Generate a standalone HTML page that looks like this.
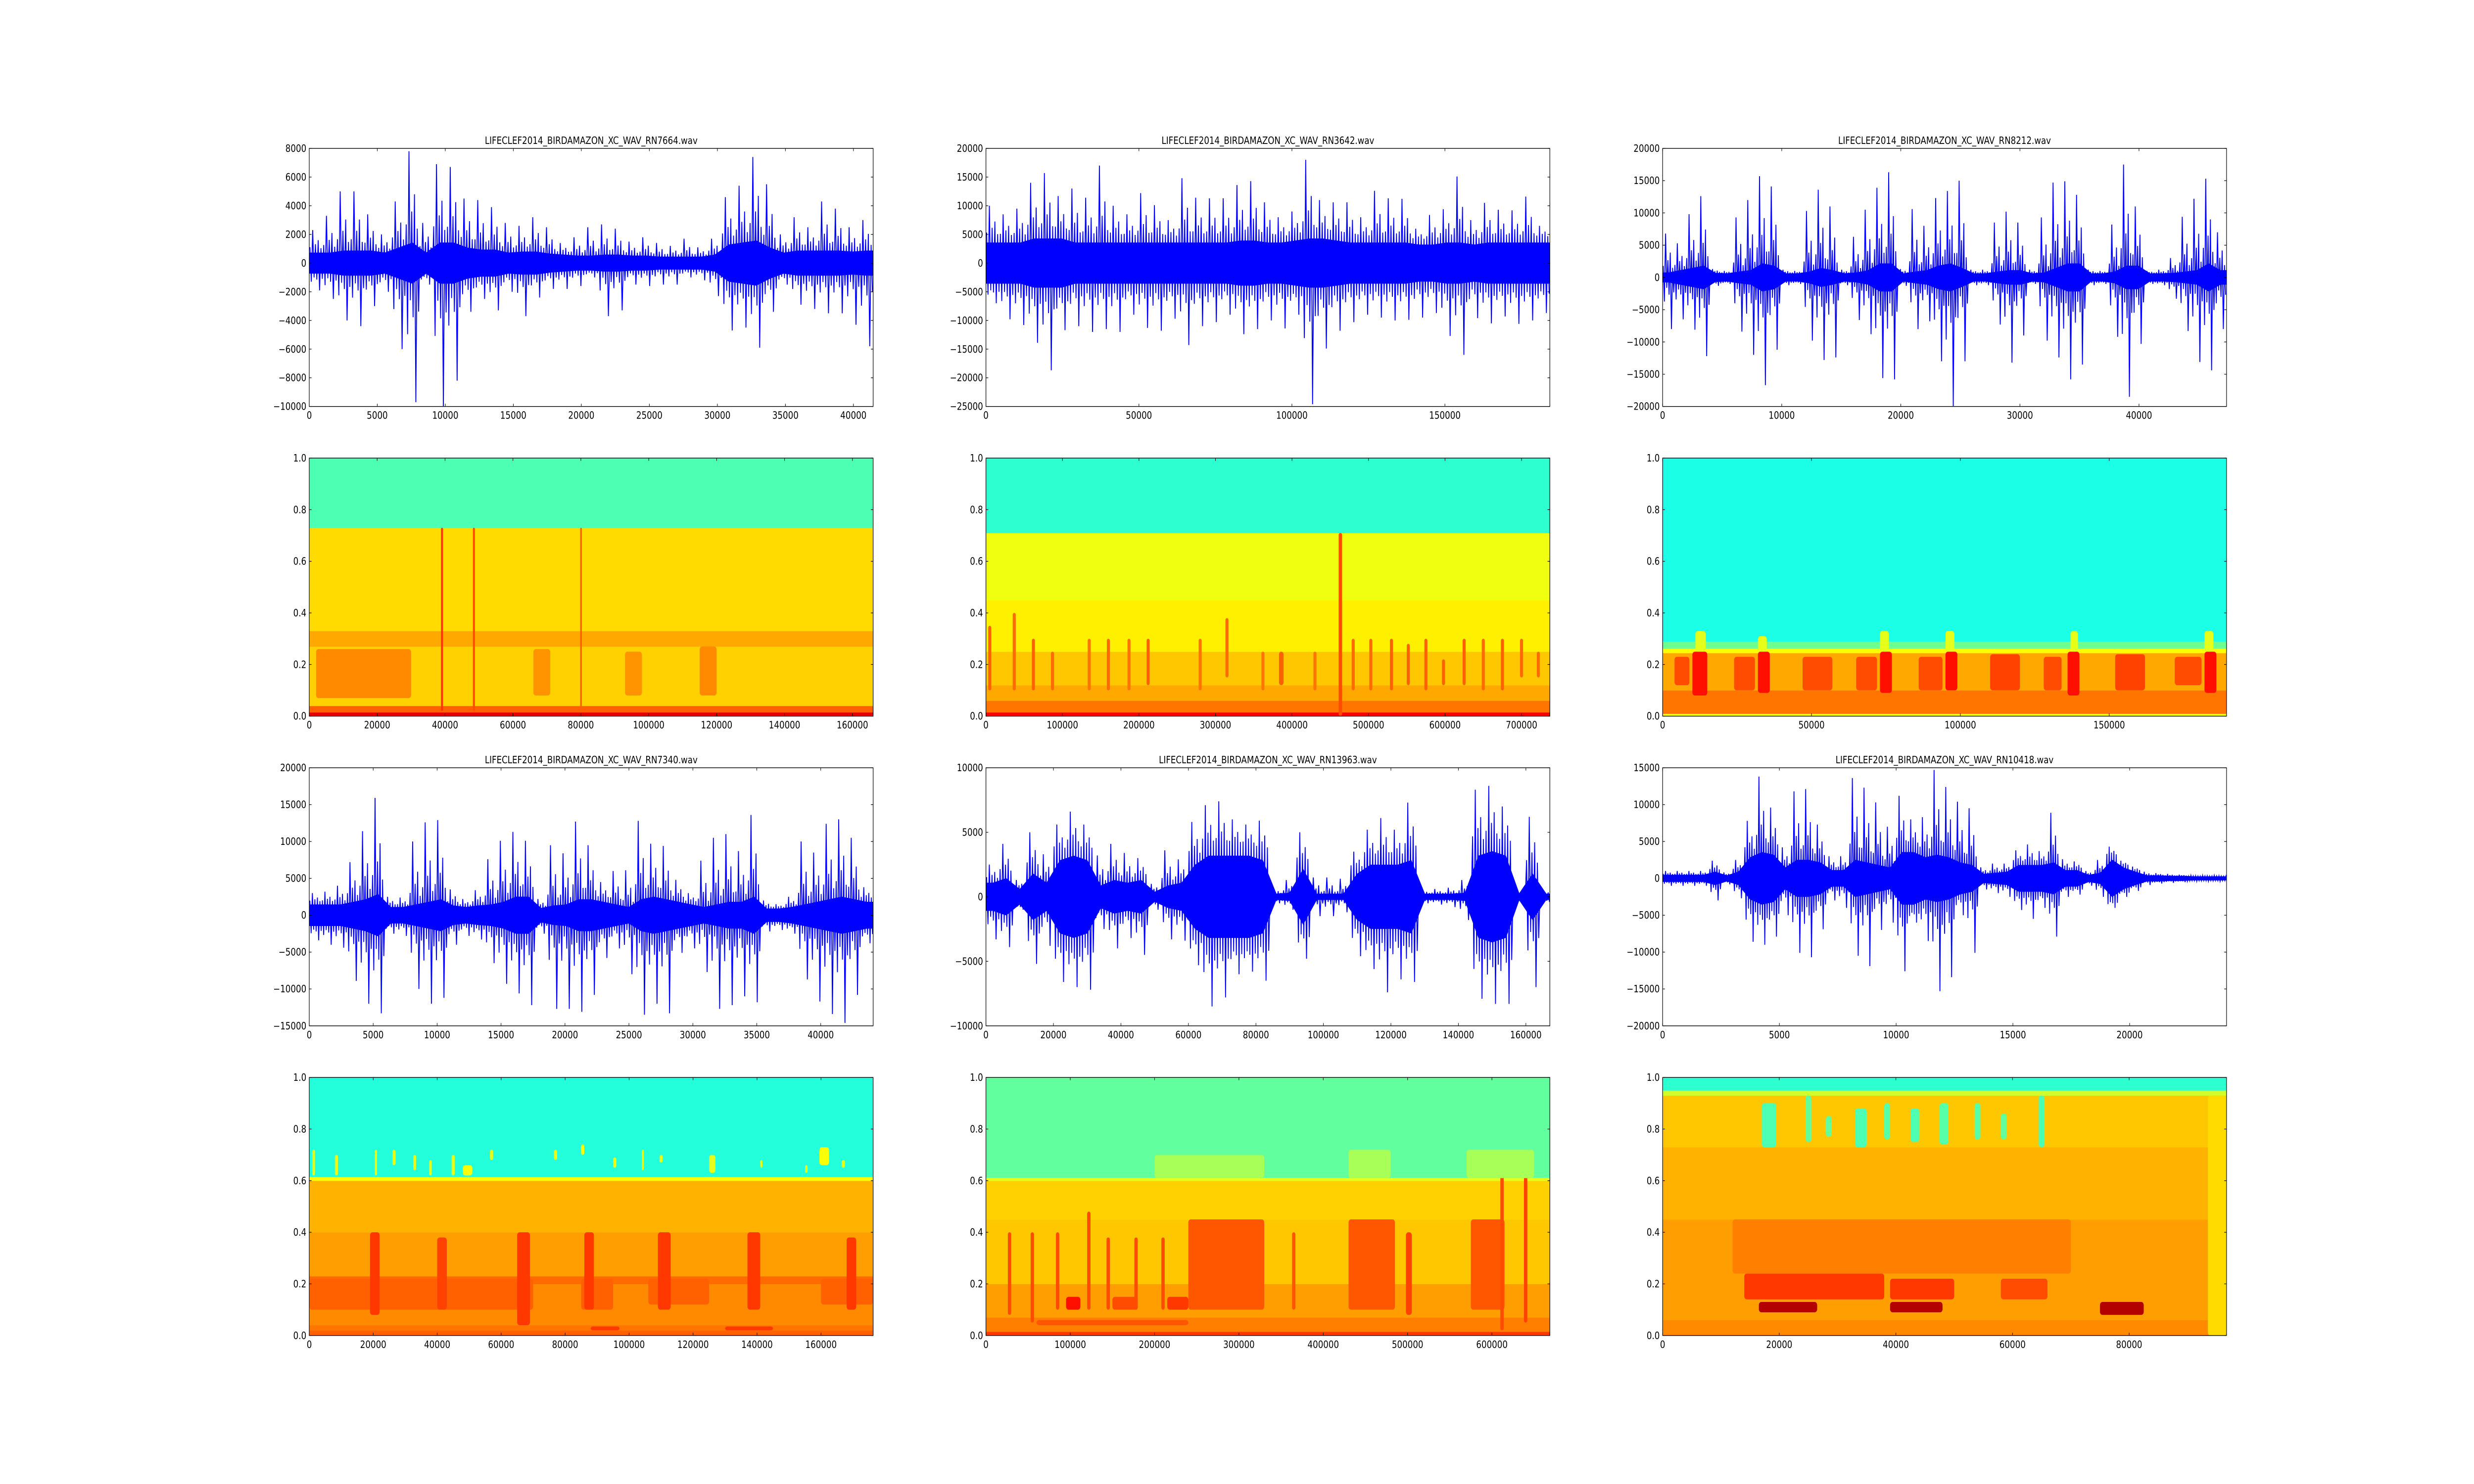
<!DOCTYPE html>
<html><head><meta charset="utf-8">
<style>
html,body{margin:0;padding:0;background:#fff;width:100vw;height:100vh;overflow:hidden;}
svg{display:block;width:100vw;height:100vh;}
text{font-family:"DejaVu Sans","Liberation Sans",sans-serif;font-size:20px;fill:#000;}
</style></head>
<body>
<svg id="fig" viewBox="0 0 6000 3000" preserveAspectRatio="none" xmlns="http://www.w3.org/2000/svg">
<rect x="0" y="0" width="6000" height="3000" fill="#fff"/>
<defs id="defs"></defs>
</svg>
<script>
// ---------- Waveform data (peak / trough / core amplitude per bin) ----------
const w1Step = 1011;
const w1Max = [2300,3300,5000,5000,3400,2000,4300,7800,2800,6900,6700,4500,4400,3900,2800,2600,3200,2500,1400,1800,2500,2700,2400,1500,1800,1400,1200,1700,1100,1700,4600,5400,7400,5500,2000,3200,2500,4300,3800,2500,3000];
const w1Min = [-1900,-2500,-4000,-4400,-3000,-2000,-6000,-9700,-1500,-10000,-8200,-3400,-2500,-3300,-2000,-3700,-2400,-1800,-1800,-1600,-1000,-3700,-3300,-1500,-1600,-1500,-1500,-1000,-1200,-2300,-4700,-4500,-5900,-3400,-1500,-2900,-3200,-3500,-3500,-4300,-5800];
const w1Core = [1000,1000,1200,1200,1200,1000,1500,2000,1000,2000,2000,1500,1300,1300,1000,1100,1100,900,800,700,700,800,800,700,700,600,600,600,600,800,1800,2000,2200,1500,1000,1200,1200,1200,1200,1100,1200];

const w2Step = 4495;
const w2Max = [10000,8500,9500,14000,15700,11700,13000,11400,17000,10000,8500,12200,10100,7500,14800,11400,11300,11300,13600,14300,10600,8000,9000,18000,11000,10600,10600,8000,12600,11300,11200,6000,8400,9400,15100,7500,10500,9300,9200,11600,6500];
const w2Min = [-7000,-9800,-10800,-13900,-18700,-11700,-11000,-12000,-11500,-12000,-9000,-11300,-11800,-9700,-14300,-11000,-10300,-9000,-12400,-11500,-10000,-11400,-9000,-24600,-14900,-11800,-10300,-9000,-9500,-10000,-9900,-9500,-8700,-12700,-16000,-9600,-10500,-9300,-10600,-10000,-8700];
const w2Core = [5000,5000,5000,6000,6000,6000,5000,5000,5000,5000,5000,5000,5000,5000,5000,5000,5000,5000,5500,5500,5000,5000,5500,6000,6000,5500,5000,5000,5000,5000,5000,4500,4500,5000,5000,4500,5000,5000,5000,5000,5000];

const w3Step = 986;
const w3Max = [6800,5300,9800,12600,1300,1000,9300,12000,15700,14100,1200,1000,10300,13600,11000,1200,6300,10500,13900,16300,1300,10600,8000,12300,13400,15000,1200,1200,8500,10200,8500,1200,9300,14700,14900,12800,1200,1000,8200,17500,11000,1000,1200,3000,9400,12200,15300,7000];
const w3Min = [-8000,-6500,-8100,-12200,-1300,-1000,-8400,-12000,-16700,-11200,-1200,-1000,-9800,-12800,-12400,-1200,-6600,-8800,-15600,-15800,-1300,-8000,-6800,-13000,-20000,-13000,-1200,-1200,-7300,-13200,-9000,-1000,-9800,-12400,-15800,-13500,-1200,-1000,-9200,-18500,-10300,-1000,-1200,-3300,-8300,-13100,-14400,-8000];
const w3Core = [1000,1500,2000,2500,900,800,1200,1500,3000,2500,800,800,1200,2000,1500,800,1000,1500,3000,3000,800,1200,1500,2500,3000,2000,800,800,1200,1500,1500,800,1000,2000,3000,3000,800,800,1200,2500,2500,800,800,900,1200,1500,3000,1500];

const w4Step = 980;
const w4Max = [3000,3200,4000,7200,11400,15900,2500,2400,10000,12600,12900,3500,2200,3400,7600,10100,11300,10100,2200,9500,8400,12700,9500,4500,6000,6100,12800,9700,9400,4800,3000,7400,10500,11000,8700,13600,2000,1500,2500,10000,8500,12400,13000,10500,3800];
const w4Min = [-3400,-4000,-4400,-8900,-12000,-13300,-2500,-2800,-10000,-12000,-11200,-4000,-2800,-3300,-6500,-9300,-10600,-12200,-2500,-12700,-12700,-13100,-10800,-5800,-4500,-8000,-13500,-12000,-13300,-5100,-4500,-7700,-12700,-12200,-11000,-11800,-2200,-2000,-2500,-8700,-11700,-13400,-14600,-10800,-3800];
const w4Core = [2000,2000,2000,2500,3000,4000,1500,1500,2000,2500,3000,1800,1500,1800,2000,2500,3500,3500,1300,1800,2000,3000,3000,2500,2000,1500,3000,3500,3000,2500,2000,1500,2000,2500,2500,3500,1200,1200,1500,2000,2500,3000,3500,3000,2500];

const w5Step = 4000;
const w5Max = [2500,4100,1300,5000,3300,5600,6600,5600,3200,4100,3400,3000,1000,3600,2900,5800,7100,7400,6000,5600,5900,600,1300,5000,1500,1500,1400,3500,5200,6100,5200,7300,500,600,700,1300,8300,8600,7000,500,6200,400,400];
const w5Min = [-3300,-3900,-1000,-5200,-3800,-6600,-7000,-7200,-2500,-4000,-3200,-4500,-1000,-3300,-3400,-5300,-8500,-7800,-6000,-5800,-6500,-500,-1000,-4800,-1500,-1500,-1200,-4600,-5600,-7400,-6400,-6600,-500,-600,-800,-1800,-7900,-8300,-8300,-500,-7000,-400,-400];
const w5Core = [1500,2000,800,2500,1500,4000,4500,4000,1200,1800,1500,1800,500,1200,1500,3500,4500,4500,4500,4500,4000,300,400,3000,300,300,300,2500,3500,3500,3500,4000,300,300,300,400,4500,5000,4500,300,2500,300,300];

const w6Step = 500;
const w6Max = [1000,1000,1000,1000,2400,800,2500,7800,13800,9600,4200,11800,12100,7300,3000,3000,13600,12300,10300,7000,11200,8000,8300,14700,12400,10400,9500,1500,2000,2000,3800,4600,3700,8900,2600,2300,1000,2500,4300,2400,1600,900,700,600,500,400,400,400,300];
const w6Min = [-1000,-1000,-1000,-1000,-3000,-800,-2700,-8600,-9000,-7900,-5000,-10100,-10700,-6900,-3000,-4000,-10500,-11900,-7000,-6000,-12600,-6000,-8500,-15300,-13400,-5000,-10100,-1500,-2000,-2500,-4300,-5500,-4000,-7900,-2500,-2200,-1000,-2500,-4000,-2500,-1700,-900,-700,-600,-500,-400,-400,-400,-300];
const w6Core = [600,600,600,600,1200,500,1200,4000,5000,4500,2000,3500,3500,3000,1500,1500,3500,3000,2500,2000,5000,5000,4000,4500,4000,3000,2500,800,1000,1200,2500,2500,2500,3000,1500,1500,600,1000,3500,2000,1200,500,500,400,400,300,300,300,300];

// ---------- Spectrogram data: bands [f0,f1,level], bursts [t0,t1,f0,f1,level] ----------
const s1Bands = [[0,0.015,0.9],[0.015,0.04,0.78],[0.04,0.27,0.67],[0.27,0.33,0.71],[0.33,0.73,0.66],[0.73,1,0.45]];
const s1Bursts = [[2000,30000,0.07,0.26,0.74],[66000,71000,0.08,0.26,0.73],[93000,98000,0.08,0.25,0.73],[115000,120000,0.08,0.27,0.74],[38800,39400,0.02,0.73,0.82],[48200,48800,0.02,0.73,0.8],[79800,80300,0.02,0.73,0.78]];
const s2Bands = [[0,0.015,0.88],[0.015,0.06,0.76],[0.06,0.12,0.71],[0.12,0.25,0.68],[0.25,0.45,0.64],[0.45,0.71,0.61],[0.71,1,0.42]];
const s2Bursts = [[3000,7000,0.1,0.35,0.78],[35000,39000,0.1,0.4,0.77],[60000,64000,0.1,0.3,0.78],[85000,89000,0.1,0.25,0.77],[133000,137000,0.1,0.3,0.76],[158000,162000,0.1,0.3,0.77],[185000,189000,0.1,0.3,0.76],[210000,214000,0.12,0.3,0.78],[278000,282000,0.1,0.3,0.76],[313000,317000,0.15,0.38,0.77],[360000,364000,0.1,0.25,0.76],[383000,389000,0.12,0.25,0.78],[428000,432000,0.1,0.25,0.76],[478000,482000,0.1,0.3,0.77],[501000,505000,0.1,0.3,0.77],[528000,532000,0.1,0.3,0.78],[550000,554000,0.12,0.28,0.78],[573000,577000,0.1,0.3,0.78],[596000,600000,0.12,0.22,0.78],[623000,627000,0.12,0.3,0.78],[648000,652000,0.1,0.3,0.77],[673000,677000,0.1,0.3,0.78],[698000,702000,0.15,0.3,0.77],[720000,724000,0.15,0.25,0.77],[461000,465500,0.0,0.71,0.8]];
const s3Bands = [[0,0.01,0.62],[0.01,0.1,0.76],[0.1,0.245,0.71],[0.245,0.262,0.62],[0.262,0.29,0.48],[0.29,1,0.4]];
const s3Bursts = [[10000,15000,0.08,0.25,0.86],[32000,36000,0.09,0.25,0.86],[73000,77000,0.09,0.25,0.86],[95000,99000,0.1,0.25,0.86],[136000,140000,0.08,0.25,0.86],[182000,186000,0.09,0.25,0.86],[4000,9000,0.12,0.23,0.8],[24000,31000,0.1,0.23,0.8],[47000,57000,0.1,0.23,0.8],[65000,72000,0.1,0.23,0.8],[86000,94000,0.1,0.23,0.8],[110000,120000,0.1,0.24,0.81],[128000,134000,0.1,0.23,0.8],[152000,162000,0.1,0.24,0.81],[172000,181000,0.12,0.23,0.8],[11000,14500,0.25,0.33,0.6],[32000,35000,0.25,0.31,0.6],[73000,76000,0.25,0.33,0.6],[95000,98000,0.25,0.33,0.6],[137000,139500,0.25,0.33,0.6],[182000,185000,0.25,0.33,0.6]];
const s4Bands = [[0,0.02,0.78],[0.02,0.04,0.76],[0.04,0.2,0.74],[0.2,0.23,0.77],[0.23,0.4,0.72],[0.4,0.6,0.7],[0.6,0.615,0.62],[0.615,1,0.41]];
const s4Bursts = [[0,70000,0.1,0.22,0.78],[85000,95000,0.1,0.22,0.78],[106000,125000,0.12,0.22,0.78],[160000,176300,0.12,0.22,0.78],[19000,22000,0.08,0.4,0.82],[40000,43000,0.1,0.38,0.81],[65000,69000,0.04,0.4,0.82],[86000,89000,0.1,0.4,0.82],[109000,113000,0.1,0.4,0.82],[137000,141000,0.1,0.4,0.82],[168000,171000,0.1,0.38,0.82],[88000,97000,0.02,0.035,0.82],[130000,145000,0.02,0.035,0.82],[1000,1800,0.62,0.72,0.6],[8000,9000,0.62,0.7,0.6],[20500,21200,0.62,0.72,0.6],[26000,27000,0.66,0.72,0.6],[32500,33400,0.64,0.7,0.6],[37500,38300,0.62,0.68,0.6],[44500,45500,0.62,0.7,0.6],[48000,51000,0.62,0.66,0.62],[56500,57500,0.68,0.72,0.6],[76500,77500,0.68,0.72,0.6],[85000,86000,0.7,0.74,0.62],[95000,96000,0.65,0.69,0.6],[104000,104600,0.64,0.72,0.6],[109500,110500,0.67,0.7,0.6],[125000,127000,0.63,0.7,0.6],[141000,141700,0.65,0.68,0.6],[155000,155800,0.63,0.66,0.6],[159500,162500,0.66,0.73,0.62],[166500,167500,0.65,0.68,0.6]];
const s5Bands = [[0,0.015,0.82],[0.015,0.07,0.75],[0.07,0.2,0.72],[0.2,0.45,0.68],[0.45,0.6,0.67],[0.6,0.612,0.6],[0.612,1,0.47]];
const s5Bursts = [[240000,330000,0.1,0.45,0.79],[430000,485000,0.1,0.45,0.79],[498000,505000,0.08,0.4,0.81],[575000,615000,0.1,0.45,0.79],[95000,112000,0.1,0.15,0.86],[150000,180000,0.1,0.15,0.8],[215000,240000,0.1,0.15,0.82],[60000,240000,0.04,0.06,0.79],[26000,30000,0.08,0.4,0.8],[53000,57000,0.05,0.4,0.8],[83000,87000,0.1,0.4,0.8],[120000,124000,0.1,0.48,0.8],[143000,147000,0.1,0.38,0.8],[176000,180000,0.1,0.38,0.8],[208000,212000,0.1,0.38,0.8],[363000,367000,0.1,0.4,0.79],[638000,642000,0.05,0.72,0.81],[610000,614000,0.02,0.7,0.8],[200000,330000,0.61,0.7,0.54],[430000,480000,0.61,0.72,0.54],[570000,650000,0.61,0.72,0.54]];
const s6Bands = [[0,0.06,0.74],[0.06,0.45,0.72],[0.45,0.73,0.7],[0.73,0.93,0.68],[0.93,0.95,0.58],[0.95,1,0.42]];
const s6Bursts = [[14000,38000,0.14,0.24,0.82],[39000,50000,0.14,0.22,0.82],[58000,66000,0.14,0.22,0.8],[12000,70000,0.24,0.45,0.75],[16500,26500,0.09,0.13,0.95],[39000,48000,0.09,0.13,0.95],[75000,82500,0.08,0.13,0.95],[17000,19500,0.73,0.9,0.45],[24500,25500,0.75,0.93,0.47],[33000,35000,0.73,0.88,0.45],[38000,39000,0.76,0.9,0.46],[42500,44000,0.75,0.88,0.45],[47500,49000,0.74,0.9,0.46],[53500,54500,0.76,0.9,0.46],[64500,65500,0.73,0.93,0.45],[28000,29000,0.77,0.85,0.47],[58000,59000,0.76,0.86,0.47],[93500,96700,0.0,0.93,0.66]];

// ---------- Ticks ----------
const w1XTicks=[0,5000,10000,15000,20000,25000,30000,35000,40000], w1YTicks=[-10000,-8000,-6000,-4000,-2000,0,2000,4000,6000,8000];
const w2XTicks=[0,50000,100000,150000], w2YTicks=[-25000,-20000,-15000,-10000,-5000,0,5000,10000,15000,20000];
const w3XTicks=[0,10000,20000,30000,40000], w3YTicks=[-20000,-15000,-10000,-5000,0,5000,10000,15000,20000];
const w4XTicks=[0,5000,10000,15000,20000,25000,30000,35000,40000], w4YTicks=[-15000,-10000,-5000,0,5000,10000,15000,20000];
const w5XTicks=[0,20000,40000,60000,80000,100000,120000,140000,160000], w5YTicks=[-10000,-5000,0,5000,10000];
const w6XTicks=[0,5000,10000,15000,20000], w6YTicks=[-20000,-15000,-10000,-5000,0,5000,10000,15000];
const sYTicks=[0,0.2,0.4,0.6,0.8,1.0];
const s1XTicks=[0,20000,40000,60000,80000,100000,120000,140000,160000];
const s2XTicks=[0,100000,200000,300000,400000,500000,600000,700000];
const s3XTicks=[0,50000,100000,150000];
const s4XTicks=[0,20000,40000,60000,80000,100000,120000,140000,160000];
const s5XTicks=[0,100000,200000,300000,400000,500000,600000];
const s6XTicks=[0,20000,40000,60000,80000];

// ---------- Rendering ----------
const NS='http://www.w3.org/2000/svg';
const svg=document.getElementById('fig');
const defs=document.getElementById('defs');
function mk(tag,attrs,parent){const e=document.createElementNS(NS,tag);for(const k in attrs)e.setAttribute(k,attrs[k]);parent.appendChild(e);return e;}
function jet(v){const c=x=>Math.round(255*Math.max(0,Math.min(1,x)));return 'rgb('+c(1.5-Math.abs(4*v-3))+','+c(1.5-Math.abs(4*v-2))+','+c(1.5-Math.abs(4*v-1))+')';}
const L=750, AW=1367.6, T=300, AH=521.7;
function colX(c){return L+c*(AW*1.2);}
function rowY(r){return T+r*(AH*1.2);}
function fmt(v,dec){let s=dec?v.toFixed(1):String(v);return s.replace('-','\u2212');}

let clipId=0;
function axes(name,c,r,xmax,ymin,ymax,xt,yt,dec,title){
  const x0=colX(c),y0=rowY(r);
  const g=mk('g',{},svg);
  
  
  const id='clip'+(clipId++);
  const cp=mk('clipPath',{id:id},defs);
  mk('rect',{x:x0,y:y0,width:AW,height:AH},cp);
  const plot=mk('g',{'clip-path':'url(#'+id+')'},g);
  
  
  const sx=v=>x0+v/xmax*AW;
  const sy=v=>y0+AH-(v-ymin)/(ymax-ymin)*AH;
  return {g,plot,x0,y0,sx,sy,xmax,ymin,ymax,xt,yt,dec,title,name};
}
function finish(a){
  const {g,x0,y0,sx,sy,xt,yt,dec,title,name}=a;
  const fr=mk('rect',{x:x0,y:y0,width:AW,height:AH,fill:'none',stroke:'#000','stroke-width':1.4},g);
  
  
  const tk=5.6;
  xt.forEach(v=>{
    const x=sx(v);
    const t1=mk('line',{x1:x,x2:x,y1:y0+AH,y2:y0+AH-tk,stroke:'#000','stroke-width':1.2},g);
    
    
    const t2=mk('line',{x1:x,x2:x,y1:y0,y2:y0+tk,stroke:'#000','stroke-width':1.2},g);
    
    
    const lb=mk('text',{x:x,y:y0+AH+25,'text-anchor':'middle'},g);
    lb.textContent=fmt(v,false);
    
    
  });
  yt.forEach(v=>{
    const y=sy(v);
    const t1=mk('line',{x1:x0,x2:x0+tk,y1:y,y2:y,stroke:'#000','stroke-width':1.2},g);
    
    
    const t2=mk('line',{x1:x0+AW,x2:x0+AW-tk,y1:y,y2:y,stroke:'#000','stroke-width':1.2},g);
    
    
    const lb=mk('text',{x:x0-7,y:y+7,'text-anchor':'end'},g);
    lb.textContent=fmt(v,dec);
    
    
  });
  if(title){
    const tt=mk('text',{x:x0+AW/2,y:y0-9,'text-anchor':'middle'},g);
    tt.textContent=title;
    
    
  }
}
const qUp=[0.15,1.0,0.3,0.5,0.1];
const qDn=[0.4,0.1,0.25,1.0,0.2];
function wave(a,step,mx,mn,core){
  const {plot,sx,sy}=a;
  const n=mx.length;
  let top=[],bot=[];
  for(let i=0;i<n;i++){const xc=sx((i+0.5)*step);const c=core[i]*0.7;top.push(xc+','+sy(c));bot.unshift(xc+','+sy(-c));}
  top.unshift(sx(0)+','+sy(core[0]*0.7));bot.push(sx(0)+','+sy(-core[0]*0.7));
  top.push(sx(n*step)+','+sy(core[n-1]*0.7));bot.unshift(sx(n*step)+','+sy(-core[n-1]*0.7));
  const f=mk('polygon',{points:top.concat(bot).join(' '),fill:'#0000ff',stroke:'#0000ff','stroke-width':2},plot);
  
  
  let pts=[];
  const K=qUp.length;
  for(let i=0;i<n;i++){
    const c=core[i]*0.9;
    for(let k=0;k<K;k++){
      const up=c+Math.max(0,mx[i]-c)*qUp[k];
      const dn=-(c+Math.max(0,-mn[i]-c)*qDn[k]);
      pts.push(sx((i+(2*k+0.5)/(2*K))*step)+','+sy(up));
      pts.push(sx((i+(2*k+1.5)/(2*K))*step)+','+sy(dn));
    }
  }
  const p=mk('polyline',{points:pts.join(' '),fill:'none',stroke:'#0000ff','stroke-width':2.2,'stroke-linejoin':'miter'},plot);
  
  
}
function spec(a,bands,bursts){
  const {plot,sx,sy,xmax}=a;
  bands.forEach(b=>{
    const r=mk('rect',{x:sx(0),y:sy(b[1]),width:sx(xmax)-sx(0),height:sy(b[0])-sy(b[1])+0.5,fill:jet(b[2])},plot);
    
    
  });
  bursts.forEach(b=>{
    const w=Math.max(2,sx(b[1])-sx(b[0]));
    const r=mk('rect',{x:sx(b[0]),y:sy(b[3]),width:w,height:sy(b[2])-sy(b[3]),fill:jet(b[4]),rx:Math.min(w/2,6)},plot);
    
    
  });
}
const P='LIFECLEF2014_BIRDAMAZON_XC_WAV_';
let a;
a=axes('waveform-rn7664',0,0,41450,-10000,8000,w1XTicks,w1YTicks,false,P+'RN7664.wav'); wave(a,w1Step,w1Max,w1Min,w1Core); finish(a);
a=axes('waveform-rn3642',1,0,184300,-25000,20000,w2XTicks,w2YTicks,false,P+'RN3642.wav'); wave(a,w2Step,w2Max,w2Min,w2Core); finish(a);
a=axes('waveform-rn8212',2,0,47350,-20000,20000,w3XTicks,w3YTicks,false,P+'RN8212.wav'); wave(a,w3Step,w3Max,w3Min,w3Core); finish(a);
a=axes('spectrogram-rn7664',0,1,166100,0,1,s1XTicks,sYTicks,true,null); spec(a,s1Bands,s1Bursts); finish(a);
a=axes('spectrogram-rn3642',1,1,737000,0,1,s2XTicks,sYTicks,true,null); spec(a,s2Bands,s2Bursts); finish(a);
a=axes('spectrogram-rn8212',2,1,189400,0,1,s3XTicks,sYTicks,true,null); spec(a,s3Bands,s3Bursts); finish(a);
a=axes('waveform-rn7340',0,2,44100,-15000,20000,w4XTicks,w4YTicks,false,P+'RN7340.wav'); wave(a,w4Step,w4Max,w4Min,w4Core); finish(a);
a=axes('waveform-rn13963',1,2,167100,-10000,10000,w5XTicks,w5YTicks,false,P+'RN13963.wav'); wave(a,w5Step,w5Max,w5Min,w5Core); finish(a);
a=axes('waveform-rn10418',2,2,24150,-20000,15000,w6XTicks,w6YTicks,false,P+'RN10418.wav'); wave(a,w6Step,w6Max,w6Min,w6Core); finish(a);
a=axes('spectrogram-rn7340',0,3,176300,0,1,s4XTicks,sYTicks,true,null); spec(a,s4Bands,s4Bursts); finish(a);
a=axes('spectrogram-rn13963',1,3,668700,0,1,s5XTicks,sYTicks,true,null); spec(a,s5Bands,s5Bursts); finish(a);
a=axes('spectrogram-rn10418',2,3,96700,0,1,s6XTicks,sYTicks,true,null); spec(a,s6Bands,s6Bursts); finish(a);
</script>
</body></html>
